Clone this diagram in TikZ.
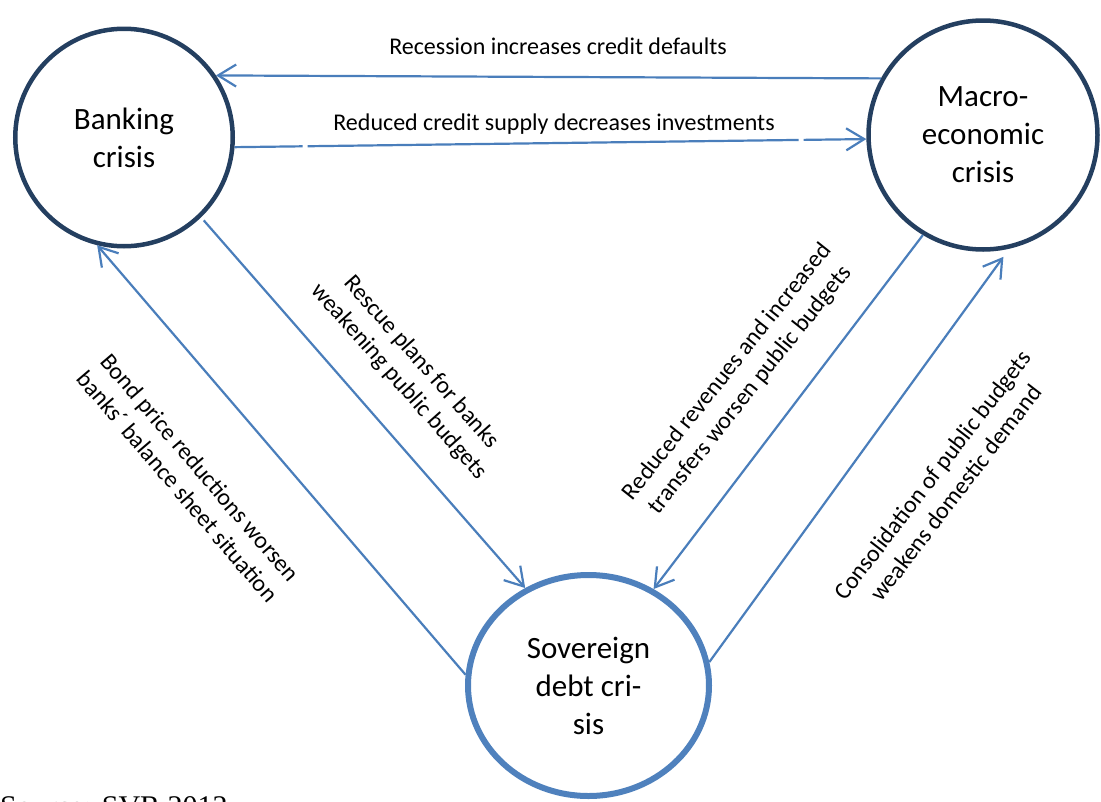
\documentclass[tikz,border=0pt]{standalone}
\usepackage{fontspec}
\setmainfont{Carlito}
\newfontfamily\sourcefont{Liberation Serif}
\usetikzlibrary{arrows.meta, shapes.geometric}
\definecolor{navy}{HTML}{243F60}
\definecolor{ringblue}{HTML}{4F81BD}
\definecolor{linkblue}{HTML}{4A7EBB}

\begin{document}
\begin{tikzpicture}[x=1pt, y=-1pt, >={Straight Barb[length=18pt, width=22pt]},
  crisis/.style={draw=navy, line width=4.5pt, circle, inner sep=0pt, align=center, font=\fontsize{31}{38}\selectfont},
  link/.style={->, linkblue, line width=2.2pt},
  lab/.style={align=center, inner sep=0pt, font=\fontsize{24}{29.3}\selectfont}]
  \useasboundingbox (0,0) rectangle (1101,801);
  \clip (0,0) rectangle (1101,801);

  % Circles
  \node[crisis, minimum size=217.5pt] (bank) at (124,137.5) {Banking\\crisis};
  \node[crisis, minimum size=229pt] (mac) at (983,135) {Macro-\\economic\\crisis};
  \node[crisis, ellipse, draw=ringblue, line width=6pt, minimum width=241pt, minimum height=221pt] (sov) at (588.5,685.5) {Sovereign\\debt cri-\\sis};

  % Arrows
  \draw[link] (mac.151) -- (bank.34);
  \draw[link, dash pattern=on 68pt off 5pt on 491pt off 5pt on 200pt] (bank.-5) -- (mac.-178);
  \draw[link, shorten <=4pt] (bank.-46) -- (sov.123);
  \draw[link] (sov.175) -- (bank.-104);
  \draw[link] (mac.-121) -- (sov.56);
  \draw[link, shorten >=10pt] (sov.11) -- (mac.-77);

  % Labels
  \node[lab] (rec) at (558,46) {Recession increases credit defaults};
  \node[lab] (sup) at (554,124) {Reduced credit supply decreases investments};
  \node[lab, rotate=-48.5] (res) at (410,372) {Rescue plans for banks\\weakening public budgets};
  \node[lab, rotate=-49.5] (bond) at (189,477) {Bond price reductions worsen\\banks´ balance sheet situation};
  \node[lab, rotate=51.5] (rev) at (739,381) {Reduced revenues and increased\\transfers worsen public budgets};
  \node[lab, rotate=52.5] (con) at (944,484) {Consolidation of public budgets\\weakens domestic demand};

  % Source
  \node[anchor=base west, inner sep=0pt, font=\sourcefont\fontsize{30}{36}\selectfont] (src) at (0,816) {Source: SVR 2012};
\end{tikzpicture}
\end{document}
